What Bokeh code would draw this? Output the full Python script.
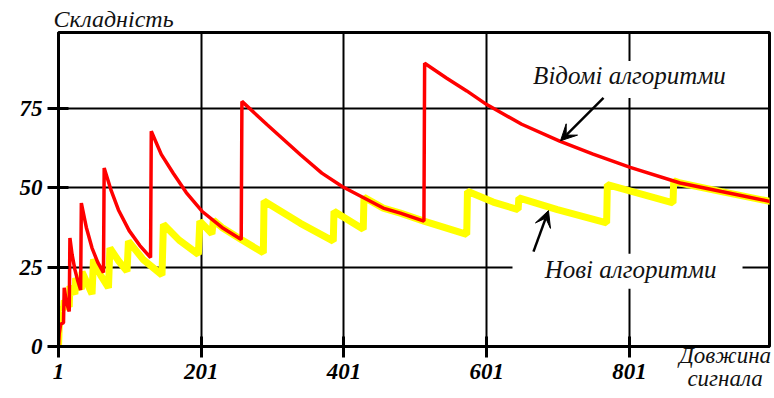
from bokeh.plotting import figure
from bokeh.models import (FixedTicker, Label, Arrow, VeeHead, Range1d, BoxAnnotation,
                          LinearAxis)
from bokeh.embed import file_html
from bokeh.resources import INLINE

# Known algorithms (red) - complexity vs signal length
known_x = [1, 2, 4, 8, 9, 12, 16, 17, 20, 24, 28, 32, 33, 40, 48, 56, 64,
           65, 75, 85, 100, 115, 130, 131, 145, 162, 180, 202, 230, 257,
           258, 293, 340, 370, 399, 456, 480, 513,
           514, 545, 573, 601, 650, 704, 750, 802, 872, 930, 1000]
known_y = [0, 4, 7, 7.5, 18.5, 14, 11, 34.2, 29, 24.2, 20.7, 17.8, 45.2, 37.5, 31, 26.5, 23.3,
           56.2, 49, 43, 36.5, 31.8, 28, 67.8, 60.5, 54.5, 48.5, 42.6, 37.5, 33.7,
           77.2, 69.9, 60.4, 54.6, 50.3, 43.6, 42, 39.5,
           89.2, 84.5, 80.5, 76.2, 70, 64.6, 60.6, 56.4, 51.5, 48.8, 45.6]

# New algorithms (yellow)
new_x = [1, 2, 3, 5, 8, 9, 16, 17, 24, 25, 33, 34, 48, 50, 60, 71, 73, 85, 97,
         99, 120, 146, 148, 170, 197, 199, 216, 218, 230, 257, 288,
         289, 340, 386, 387, 428, 429, 456, 480, 513, 573,
         574, 610, 645, 646, 700, 769, 770, 862, 863, 872, 930, 1000]
new_y = [0, 6, 10, 12.5, 11.5, 14.5, 12.5, 19, 16.5, 21.5, 18, 23.5, 16.5, 27.4, 22.5, 18.5, 31, 27, 23.7,
         33.2, 27.3, 22.5, 38.5, 33.5, 29, 39.5, 35.5, 39.8, 37.5, 33.7, 29.5,
         45.8, 38.8, 33.2, 42.6, 36.9, 47, 43.6, 42, 39.5, 35.3,
         48.9, 45.5, 43.1, 46.8, 43.1, 38.9, 51, 45.2, 52.2, 51.5, 48.8, 45.6]

x_ticks = [1, 201, 401, 601, 801]
y_ticks = [0, 25, 50, 75]

x_title = "Довжина\nсигнала"
y_title = "Складність"

FONT = "Liberation Serif"
X_TITLE_AT = 935  # horizontal anchor of the x title (layout, not data)

p = figure(width=774, height=398, output_backend="svg", toolbar_location=None,
           title=y_title,
           x_range=Range1d(1, 997.2), y_range=Range1d(0, 98.9),
           min_border_left=58, min_border_right=5, min_border_top=32,
           min_border_bottom=52)

p.title.align = "left"
p.title.offset = -5
p.title.standoff = 2
p.title.text_font = FONT
p.title.text_font_style = "italic"
p.title.text_font_size = "24px"
p.title.text_color = "#111111"

p.background_fill_color = "white"
p.border_fill_color = "white"
p.outline_line_color = "black"
p.outline_line_width = 3
p.outline_line_alpha = 1

for ax, ticks in ((p.xaxis, x_ticks), (p.yaxis, y_ticks)):
    ax.ticker = FixedTicker(ticks=ticks)
    ax.axis_line_width = 3
    ax.axis_line_color = "black"
    ax.major_tick_line_width = 3
    ax.major_tick_line_color = "black"
    ax.major_tick_in = 10
    ax.major_tick_out = 11
    ax.minor_tick_line_color = None
    ax.major_label_text_font = FONT
    ax.major_label_text_font_style = "bold italic"
    ax.major_label_text_font_size = "23px"
    ax.major_label_text_color = "black"

p.xaxis.major_label_standoff = 6
p.yaxis.major_label_standoff = 5

# second, line-less axis below the first one that only carries the x title
title_axis = LinearAxis(ticker=FixedTicker(ticks=[X_TITLE_AT]),
                        major_label_overrides={X_TITLE_AT: x_title},
                        axis_line_color=None, major_tick_line_color=None,
                        minor_tick_line_color=None,
                        major_tick_in=0, major_tick_out=0,
                        major_label_standoff=-39,
                        major_label_text_font=FONT,
                        major_label_text_font_style="italic",
                        major_label_text_font_size="23px",
                        major_label_text_color="#111111",
                        major_label_text_line_height=0.95)
p.add_layout(title_axis, "below")

p.xgrid.grid_line_color = "black"
p.ygrid.grid_line_color = "black"
p.xgrid.grid_line_width = 2
p.ygrid.grid_line_width = 2
p.xgrid.grid_line_alpha = 1
p.ygrid.grid_line_alpha = 1

p.line(new_x, new_y, line_color="#ffff00", line_width=7)
p.line(known_x, known_y, line_color="#ff0000", line_width=3.5)

# white boxes behind the annotation texts
p.add_layout(BoxAnnotation(left=634.3, right=967.8, bottom=78.3, top=89.9,
                           fill_color="white", fill_alpha=1, line_color=None))
p.add_layout(BoxAnnotation(left=637.1, right=959.4, bottom=18.2, top=29.2,
                           fill_color="white", fill_alpha=1, line_color=None))

def lab(x, y, text):
    p.add_layout(Label(x=x, y=y, text=text, text_align="center", text_baseline="middle",
                       text_font=FONT, text_font_style="italic", text_font_size="25px",
                       text_color="#111111"))

lab(801, 85.2, "Відомі алгоритми")
lab(802.5, 24.2, "Нові алгоритми")

p.add_layout(Arrow(end=VeeHead(size=16, fill_color="black", line_color="black"),
                   x_start=764.6, y_start=78.3, x_end=704.4, y_end=64.8,
                   line_color="black", line_width=2.5))
p.add_layout(Arrow(end=VeeHead(size=16, fill_color="black", line_color="black"),
                   x_start=666.5, y_start=29.9, x_end=687.5, y_end=42.8,
                   line_color="black", line_width=2.5))

open("out.html", "w").write(file_html(p, INLINE))
